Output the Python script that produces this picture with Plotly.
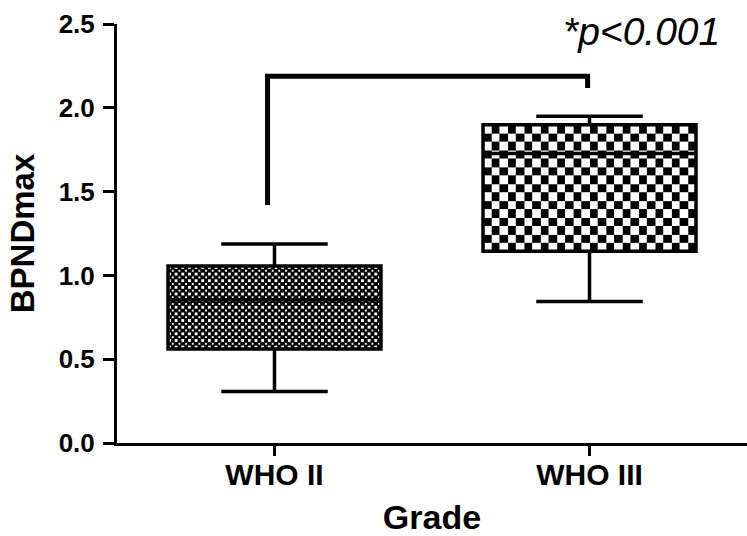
import base64
import plotly.graph_objects as go

# Tumour grade groups and BPNDmax box statistics
categories = ["WHO II", "WHO III"]
positions = [0, 1]
lower_whisker = [0.308, 0.845]
q1_values = [0.561, 1.144]
median_values = [0.853, 1.728]
q3_values = [1.056, 1.899]
upper_whisker = [1.187, 1.950]

y_tick_values = [0.0, 0.5, 1.0, 1.5, 2.0, 2.5]
y_tick_labels = ["0.0", "0.5", "1.0", "1.5", "2.0", "2.5"]

p_label = "*p<0.001"

# significance bracket (left foot, bar height, right foot)
bracket_left_end = 1.42
bracket_top = 2.188
bracket_right_end = 2.118

# layout geometry
W, H = 747, 536
M_L, M_R, M_T, M_B = 117, 0, 24, 93
X_RANGE = [-0.5, 1.5]
Y_RANGE = [0, 2.5]
BOX_WIDTH = 0.676
FONT = "Liberation Sans, Arial, sans-serif"

plot_w = W - M_L - M_R
plot_h = H - M_T - M_B
px_per_x = plot_w / (X_RANGE[1] - X_RANGE[0])
px_per_y = plot_h / (Y_RANGE[1] - Y_RANGE[0])

# checkerboard texture per group: (cell size in px, white square fraction)
textures = [(3.33, 0.8), (8.2, 1.0)]


def checker_uri(ncols, nrows, white):
    svg = (
        f'<svg xmlns="http://www.w3.org/2000/svg" viewBox="0 0 {ncols} {nrows}" '
        f'preserveAspectRatio="none" shape-rendering="crispEdges">'
        f'<defs><pattern id="c" width="2" height="2" patternUnits="userSpaceOnUse">'
        f'<rect width="{white}" height="{white}" fill="white"/>'
        f'<rect x="1" y="1" width="{white}" height="{white}" fill="white"/>'
        f'</pattern></defs>'
        f'<rect width="{ncols}" height="{nrows}" fill="black"/>'
        f'<rect width="{ncols}" height="{nrows}" fill="url(#c)"/>'
        f'</svg>'
    )
    return "data:image/svg+xml;base64," + base64.b64encode(svg.encode()).decode()


fig = go.Figure()

images = []
for i, pos in enumerate(positions):
    cell, white = textures[i]
    box_h = q3_values[i] - q1_values[i]
    ncols = max(1, round(BOX_WIDTH * px_per_x / cell))
    nrows = max(1, round(box_h * px_per_y / cell))
    images.append(dict(
        source=checker_uri(ncols, nrows, white),
        xref="x", yref="y",
        x=pos - BOX_WIDTH / 2, y=q3_values[i],
        sizex=BOX_WIDTH, sizey=box_h,
        xanchor="left", yanchor="top",
        sizing="stretch", layer="below",
    ))

    fig.add_trace(go.Box(
        x=[pos],
        q1=[q1_values[i]],
        median=[median_values[i]],
        q3=[q3_values[i]],
        lowerfence=[lower_whisker[i]],
        upperfence=[upper_whisker[i]],
        width=BOX_WIDTH,
        whiskerwidth=0.5,
        fillcolor="rgba(0,0,0,0)",
        line=dict(color="black", width=3.5),
        boxpoints=False,
        hoverinfo="skip",
        showlegend=False,
    ))

# significance bracket between the two groups
bracket_x = [positions[0] - 0.022, positions[1] - 0.006]
fig.add_trace(go.Scatter(
    x=[bracket_x[0], bracket_x[0], bracket_x[1], bracket_x[1]],
    y=[bracket_left_end, bracket_top, bracket_top, bracket_right_end],
    mode="lines",
    line=dict(color="black", width=5),
    hoverinfo="skip",
    showlegend=False,
))

fig.add_annotation(
    x=1.165, y=2.455, xref="x", yref="y",
    text=p_label, showarrow=False,
    xanchor="center", yanchor="middle",
    font=dict(family=FONT, size=39, color="black", style="italic"),
)

fig.update_layout(
    width=W, height=H,
    margin=dict(l=M_L, r=M_R, t=M_T, b=M_B, autoexpand=False),
    paper_bgcolor="white",
    plot_bgcolor="white",
    images=images,
    xaxis=dict(
        range=X_RANGE,
        tickvals=positions,
        ticktext=categories,
        ticks="outside", ticklen=10, tickwidth=3, tickcolor="black",
        ticklabelstandoff=-7,
        showline=True, linewidth=3, linecolor="black",
        showgrid=False, zeroline=False,
        tickfont=dict(family=FONT, size=30, color="black", weight="bold"),
        title=dict(text="Grade", standoff=18,
                   font=dict(family=FONT, size=34, color="black", weight="bold")),
        automargin=False,
    ),
    yaxis=dict(
        range=Y_RANGE,
        tickvals=y_tick_values,
        ticktext=y_tick_labels,
        ticks="outside", ticklen=11, tickwidth=3, tickcolor="black",
        ticklabelstandoff=3,
        showline=True, linewidth=3, linecolor="black",
        showgrid=False, zeroline=False,
        tickfont=dict(family=FONT, size=26, color="black", weight="bold"),
        title=dict(text="BPNDmax", standoff=15,
                   font=dict(family=FONT, size=33, color="black", weight="bold")),
        automargin=False,
    ),
)

fig.write_html("out.html")
